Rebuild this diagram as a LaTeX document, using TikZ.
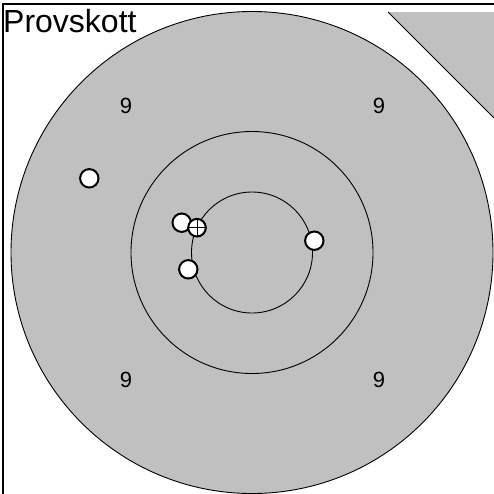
\documentclass[tikz,border=0pt]{standalone}
\usepackage{fontspec}
\setmainfont{Liberation Sans}
\definecolor{tgray}{RGB}{192,192,192}
\begin{document}
\begin{tikzpicture}[x=1pt,y=-1pt,
  ring/.style={draw=black,line width=0.9pt},
  shot/.style={draw=black,fill=white,line width=2pt},
  score/.style={font=\fontsize{22}{22}\selectfont,inner sep=0pt}]
\useasboundingbox (0,0) rectangle (494,493);
\clip (0,0) rectangle (494,493);
\fill[white] (0,0) rectangle (494,493);
\draw[line width=1.5pt] (3,4) rectangle (520,520);
% corner triangle
\fill[tgray] (388,12) -- (520,12) -- (520,144) -- cycle;
\draw[line width=0.8pt] (388,12) -- (520,144);
% target
\coordinate (c) at (252,252.5);
\fill[tgray] (c) circle (241);
\draw[ring] (c) circle (241);
\draw[ring] (c) circle (121);
\draw[ring] (c) circle (60.5);
\node[score] (n1) at (126,105.5) {9};
\node[score] (n2) at (379,105.5) {9};
\node[score] (n3) at (126,380) {9};
\node[score] (n4) at (379,380) {9};
\node[anchor=north west,inner sep=0pt,font=\fontsize{32}{32}\selectfont] (title) at (3,9) {Provskott};
% shots
\draw[shot] (89.3,178.3) circle (9.2);
\draw[shot] (181.7,222.7) circle (9.2);
\draw[shot] (188.3,269.3) circle (9.2);
\draw[shot] (314.3,240.7) circle (9.2);
\draw[shot] (197,227.7) circle (8.8);
\draw[line width=1pt] (187.5,227.7) -- (206.5,227.7);
\draw[line width=1pt] (197,218.2) -- (197,237.2);
\end{tikzpicture}
\end{document}
